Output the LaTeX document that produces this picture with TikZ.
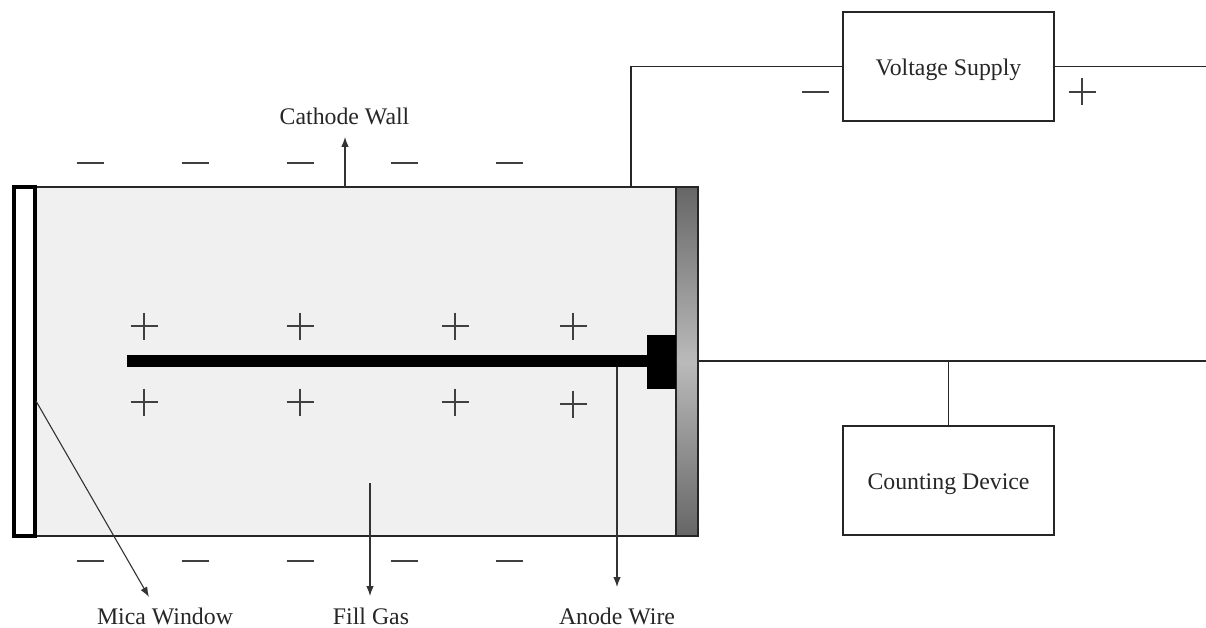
\documentclass[tikz,border=0pt]{standalone}
\usepackage{fontspec}
\setmainfont{Liberation Serif}
\usetikzlibrary{positioning, arrows.meta}
\tikzset{
    wire/.style={line width=1.2pt, black!85},
    pointer/.style={line width=1.1pt, black!80, -{Latex[length=10pt, width=7.5pt]}},
    devicebox/.style={draw, line width=1.3pt, black!85, minimum width=211pt, minimum height=109pt, text=black!85, text height=22pt, text depth=5pt, font=\fontsize{23.8}{26}\selectfont},
    caption/.style={text=black!85, font=\fontsize{23.8}{26}\selectfont, inner sep=0pt}
}
\newcommand{\minussign}[2]{\draw[line width=1.2pt, black!75] (#1-13.5, #2) -- (#1+13.5, #2);}
\newcommand{\plussign}[2]{\draw[line width=1.2pt, black!75] (#1-13.5, #2) -- (#1+13.5, #2) (#1, #2-13.5) -- (#1, #2+13.5);}
\begin{document}
\begin{tikzpicture}[x=1pt, y=-1pt]
    \useasboundingbox (0, 0) rectangle (1206, 628);

    % tube
    \fill[black!6] (36, 187) rectangle (676, 536);
    \draw[wire] (36, 187) -- (676, 187) (36, 536) -- (676, 536);
    \draw[wire, top color=black!60, bottom color=black!60, middle color=black!27] (676, 187) rectangle (698, 536);
    \draw[line width=3.6pt, fill=white] (14, 187) rectangle (35, 536);

    % anode
    \fill (127, 355) rectangle (647, 367);
    \fill (647, 335) rectangle (676, 389);

    % charges
    \foreach \x in {90, 195, 300, 404, 509} {
        \minussign{\x}{163}
        \minussign{\x}{561}
    }
    \foreach \x in {144, 300, 455, 573} {
        \plussign{\x}{326}
    }
    \foreach \x/\y in {144/402, 300/402, 455/402, 573/404} {
        \plussign{\x}{\y}
    }
    \minussign{815}{92}
    \plussign{1082}{92}

    % devices
    \node[devicebox] (supply) at (948.5, 66.6) {Voltage Supply};
    \node[devicebox] (counter) at (948.5, 480.5) {Counting Device};

    \coordinate (cathodetap) at (631, 187);
    \coordinate (anodetap) at (698, 361);
    \coordinate (countertap) at (948.5, 361);
    \coordinate (rightplus) at (1206, 66.6);
    \coordinate (rightsignal) at (1206, 361);

    \draw[wire] (cathodetap) |- (supply.west);
    \draw[wire] (supply.east) -- (rightplus);
    \draw[wire] (anodetap) -- (rightsignal);
    \draw[wire] (countertap) -- (counter.north);

    % labels
    \node[caption] (cathodelabel) at (344.5, 116) {Cathode Wall};
    \node[caption] (micalabel) at (165, 616.5) {Mica Window};
    \node[caption] (gaslabel) at (371, 616.5) {Fill Gas};
    \node[caption] (anodelabel) at (617, 616.5) {Anode Wire};

    \coordinate (cathodefrom) at (345, 187);
    \coordinate (cathodeto) at (345, 137);
    \coordinate (micafrom) at (36, 401);
    \coordinate (micato) at (149, 597);
    \coordinate (gasfrom) at (370, 483);
    \coordinate (gasto) at (370, 596);
    \coordinate (anodefrom) at (617, 367);
    \coordinate (anodeto) at (617, 587);

    \draw[pointer] (cathodefrom) -- (cathodeto);
    \draw[pointer] (micafrom) -- (micato);
    \draw[pointer] (gasfrom) -- (gasto);
    \draw[pointer] (anodefrom) -- (anodeto);
\end{tikzpicture}
\end{document}
